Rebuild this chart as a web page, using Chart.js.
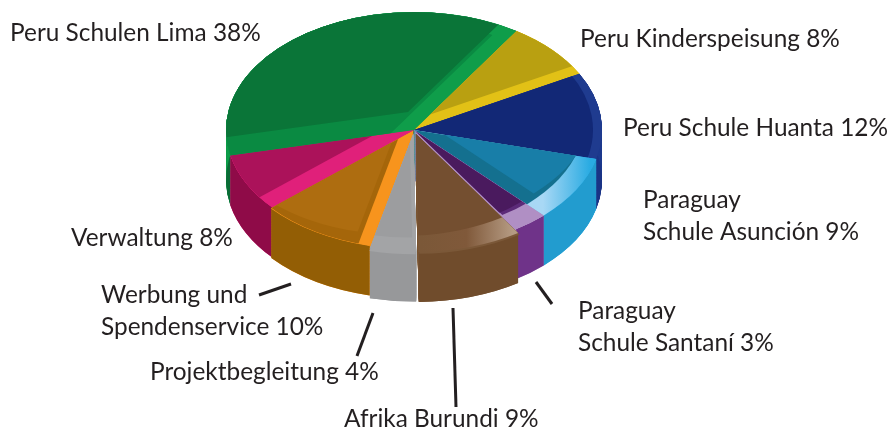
<!DOCTYPE html>
<html>
<head>
<meta charset="utf-8">
<style>
  html, body { margin: 0; padding: 0; background: #fff; }
  canvas { display: block; }
</style>
<script src="https://cdn.jsdelivr.net/npm/chart.js@4"></script>
</head>
<body>
<canvas id="pie" width="891" height="430"></canvas>
<script>
// Slices, clockwise from the Kinderspeisung edge
const categories = ['Peru Kinderspeisung', 'Peru Schule Huanta', 'Paraguay\nSchule Asunción', 'Paraguay\nSchule Santaní',
    'Afrika Burundi', 'Projektbegleitung', 'Werbung und\nSpendenservice', 'Verwaltung', 'Peru Schulen Lima'];
const values = [8, 12, 9, 3, 9, 4, 10, 8, 38];
const explode = [0, 0, 0, 0, 28, 24, 6, 0, 0];

// Colours
const edgeColors = ['#e2c116', '#1f3b8f', '#29abe2', '#b08fc4', '#7b5838', '#a3a4a6', '#f7941d', '#e0207a', '#0f9d4a'];
const wallColors = ['#b9a011', '#1a3385', '#229ccf', '#6f3389', '#704c2c', '#97989a', '#935e05', '#8f0b48', '#0a6b36'];
// Flat top faces laid over the bright edge colour: [colour, shiftX, shiftY]
const topLayers = [
    [['#b9a011', 0, -10]],
    [['#122876', -9, 0]],
    [['#14708f', -17, -11], ['#187ea8', -10, -22]],
    [['#5c2a78', -14, -14], ['#4a1a5e', -22, -14]],
    [['#744f30', -15, -16]],
    [['#9c9d9f', -4, -14]],
    [['#a5660a', -12, 0], ['#ae6d10', -12, -14]],
    [['#ab125a', -18, -7]],
    [['#0a8a42', -24, 4], ['#0a7538', -6, -18]]
];
// Shiny rims: slice index -> [x from, x to, colour stops]
const rims = {
    2: [543, 590, ['#a8d8f5', '#29abe2']],
    3: [513, 543, ['#b08fc4', '#b08fc4']],
    4: [420, 513, ['#7b5838', '#80593a', '#b59b83']]
};

// Label text positions (left x, middle y of each line)
const labelPos = [[580, 39], [623, 128], [643, 200], [578, 311], [344, 419], [150, 372], [101, 295], [71, 238], [10, 33]];
const leaders = [[536, 282, 552, 304], [453, 308, 456, 407], [373, 313, 357, 356], [291, 284, 259, 295]];

// Pie is squashed onto this ellipse
const centerX = 414, centerY = 130, radiusX = 188, radiusY = 118, wallHeight = 50;

function tiltTransform(ctx, el) {
    ctx.translate(centerX, centerY);
    ctx.scale(radiusX / el.outerRadius, radiusY / el.outerRadius);
    ctx.translate(-el.x, -el.y);
}

function slicePath(ctx, el, dx, dy) {
    const off = (el.options.offset || 0) / 4;
    const mid = (el.startAngle + el.endAngle) / 2;
    const x = el.x + Math.cos(mid) * off + dx;
    const y = el.y + Math.sin(mid) * off + dy;
    ctx.beginPath();
    ctx.moveTo(x, y);
    ctx.arc(x, y, el.outerRadius, el.startAngle, el.endAngle);
    ctx.closePath();
}

function wallPath(ctx, el, h) {
    const off = (el.options.offset || 0) / 4;
    const mid = (el.startAngle + el.endAngle) / 2;
    const x = el.x + Math.cos(mid) * off;
    const y = el.y + Math.sin(mid) * off;
    ctx.beginPath();
    ctx.arc(x, y, el.outerRadius, el.startAngle, el.endAngle);
    ctx.arc(x, y + h, el.outerRadius, el.endAngle, el.startAngle, true);
    ctx.closePath();
}

const tiltPlugin = {
    id: 'tilt',
    beforeDatasetsDraw(chart) {
        const ctx = chart.ctx;
        const arcs = chart.getDatasetMeta(0).data;
        const h = wallHeight * arcs[0].outerRadius / radiusY;
        ctx.save();
        tiltTransform(ctx, arcs[0]);

        // back slices first
        const order = arcs.map((el, i) => i).sort((a, b) =>
            Math.sin((arcs[a].startAngle + arcs[a].endAngle) / 2) - Math.sin((arcs[b].startAngle + arcs[b].endAngle) / 2));
        order.forEach(i => {
            const el = arcs[i];
            ctx.fillStyle = edgeColors[i];
            for (let k = h; k > 0; k -= 1) {
                slicePath(ctx, el, 0, k);
                ctx.fill();
            }
            ctx.fillStyle = wallColors[i];
            wallPath(ctx, el, h);
            ctx.fill();
            // redraw top so the next slice sits over it
            ctx.fillStyle = edgeColors[i];
            slicePath(ctx, el, 0, 0);
            ctx.fill();
        });
    },
    afterDatasetsDraw(chart) {
        const ctx = chart.ctx;
        const arcs = chart.getDatasetMeta(0).data;
        const ux = arcs[0].outerRadius / radiusX, uy = arcs[0].outerRadius / radiusY;
        arcs.forEach((el, i) => {
            ctx.save();
            slicePath(ctx, el, 0, 0);
            ctx.clip();
            if (rims[i]) {
                const [x0, x1, stops] = rims[i];
                const saved = ctx.getTransform();
                ctx.setTransform(1, 0, 0, 1, 0, 0);
                const grad = ctx.createLinearGradient(x0, 0, x1, 0);
                stops.forEach((c, n) => grad.addColorStop(n / (stops.length - 1), c));
                ctx.fillStyle = grad;
                ctx.fillRect(0, 0, 891, 430);
                ctx.setTransform(saved);
            }
            topLayers[i].forEach(([color, sx, sy]) => {
                ctx.fillStyle = color;
                slicePath(ctx, el, sx * ux, sy * uy);
                ctx.fill();
            });
            ctx.restore();
        });
        ctx.restore();

        // labels
        ctx.save();
        ctx.fillStyle = '#231f20';
        ctx.font = '24.4px Lato, "Open Sans", sans-serif';
        ctx.textBaseline = 'middle';
        categories.forEach((name, i) => {
            const lines = (name + ' ' + values[i] + '%').split('\n');
            lines.forEach((line, n) => ctx.fillText(line, labelPos[i][0], labelPos[i][1] + n * 32));
        });
        ctx.strokeStyle = '#231f20';
        ctx.lineWidth = 3;
        leaders.forEach(([x0, y0, x1, y1]) => {
            ctx.beginPath();
            ctx.moveTo(x0, y0);
            ctx.lineTo(x1, y1);
            ctx.stroke();
        });
        ctx.restore();
    }
};

new Chart(document.getElementById('pie').getContext('2d'), {
    type: 'pie',
    data: {
        labels: categories,
        datasets: [{
            data: values,
            backgroundColor: edgeColors,
            borderWidth: 0,
            offset: explode,
            clip: false
        }]
    },
    options: {
        responsive: false,
        animation: false,
        rotation: 33,
        plugins: { legend: { display: false }, tooltip: { enabled: false } }
    },
    plugins: [tiltPlugin]
});
</script>
</body>
</html>
